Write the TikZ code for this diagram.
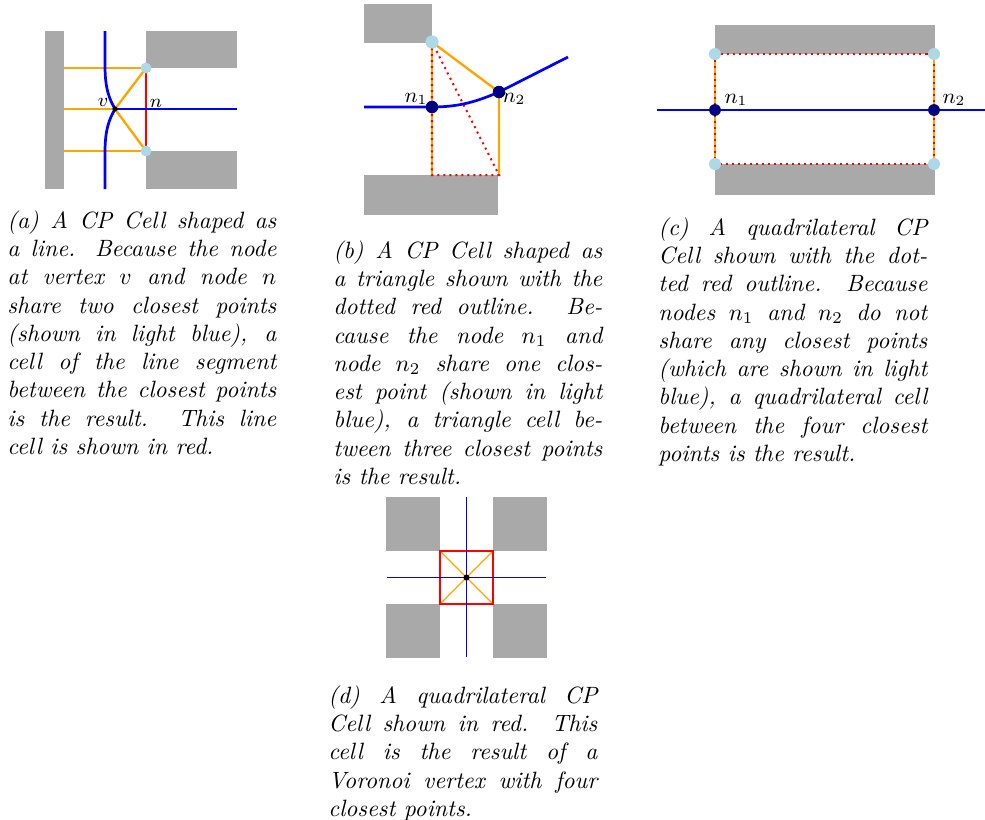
\documentclass[tikz,border=0pt]{standalone}
\usepackage{amsmath, amssymb}
\usepackage{tikz}
\usetikzlibrary{positioning}

\definecolor{obsgray}{HTML}{A9A9A9}
\definecolor{cpblue}{HTML}{ADD8E6}
\definecolor{navynode}{HTML}{000080}
\definecolor{linkorange}{HTML}{FFA500}

\tikzset{
  obstacle/.style={fill=obsgray},
  voronoi/.style={blue, line width=1.15pt},
  link/.style={linkorange, line width=1pt},
  cpcell/.style={red, line width=0.85pt, dash pattern=on 0.85pt off 1.7pt},
  closept/.style={circle, fill=cpblue, inner sep=0pt, minimum size=#1},
  closept/.default=4.6pt,
  graphnode/.style={circle, fill=navynode, inner sep=0pt, minimum size=#1},
  graphnode/.default=5pt,
  subcap/.style={anchor=north west, inner sep=0pt, text width=114pt,
    align=justify, font=\itshape}
}

\begin{document}
\begin{tikzpicture}[x=0.424pt, y=-0.424pt]
  \useasboundingbox (0,0) rectangle (985,819);

  % (a) line cell
  \fill[obstacle] (45,31) rectangle (64,189);
  \fill[obstacle] (146,31) rectangle (237,68);
  \fill[obstacle] (146,151) rectangle (237,189);
  \coordinate (a-wt) at (64,68);
  \coordinate (a-wm) at (64,109);
  \coordinate (a-wb) at (64,151);
  \coordinate (a-top) at (146,68);
  \coordinate (a-bot) at (146,151);
  \coordinate (v) at (115,109);
  \coordinate (a-east) at (237,109);
  \draw[link] (a-wt) -- (a-top);
  \draw[link] (a-wm) -- (v);
  \draw[link] (a-wb) -- (a-bot);
  \draw[link] (a-top) -- (v) -- (a-bot);
  \draw[red, line width=1.25pt] (a-top) -- (a-bot);
  \draw[voronoi] (105,31) -- (105,66) .. controls (105,90) and (110,100) .. (v)
    .. controls (110,118) and (105,128) .. (105,152) -- (105,189);
  \draw[voronoi] (v) -- (a-east);
  \node[closept] (a-cp1) at (a-top) {};
  \node[closept] (a-cp2) at (a-bot) {};
  \fill (v) circle (1.1pt);
  \node[font=\footnotesize] (v-lbl) at (103,102) {$v$};
  \node[font=\footnotesize] (n-lbl) at (156,103) {$n$};

  % (b) triangle cell
  \fill[obstacle] (364,4) rectangle (432,43);
  \fill[obstacle] (364,175) rectangle (498,215);
  \coordinate (b-cp) at (432,42);
  \coordinate (b-bl) at (432,175);
  \coordinate (b-br) at (499,175);
  \coordinate (b-west) at (364,107);
  \coordinate (b-east) at (568,57);
  \coordinate (b-n1) at (432,107);
  \coordinate (b-n2) at (499,92);
  \draw[link] (b-cp) -- (b-n2) -- (b-br);
  \draw[link] (b-cp) -- (b-bl);
  \draw[cpcell] (b-cp) -- (b-bl) -- (b-br) -- cycle;
  \draw[voronoi] (b-west) -- (b-n1) .. controls (460,107) and (478,101) .. (b-n2) -- (b-east);
  \node[closept=5.6pt] (b-cpt) at (b-cp) {};
  \node[graphnode=5.3pt] (b-dot1) at (b-n1) {};
  \node[graphnode=5.3pt] (b-dot2) at (b-n2) {};
  \node[font=\small] (b-lbl1) at (416,99) {$n_1$};
  \node[font=\small] (b-lbl2) at (514,99) {$n_2$};

  % (c) quadrilateral cell
  \fill[obstacle] (715,25) rectangle (935,54);
  \fill[obstacle] (715,164) rectangle (935,195);
  \coordinate (c-tl) at (715,54);
  \coordinate (c-tr) at (934,54);
  \coordinate (c-bl) at (715,164);
  \coordinate (c-br) at (934,164);
  \coordinate (c-n1) at (715,110);
  \coordinate (c-n2) at (934,110);
  \coordinate (c-west) at (657,110);
  \coordinate (c-east) at (985,110);
  \draw[voronoi] (c-west) -- (c-east);
  \draw[link] (c-tl) -- (c-bl);
  \draw[link] (c-tr) -- (c-br);
  \draw[cpcell] (c-tl) -- (c-tr) -- (c-br) -- (c-bl) -- cycle;
  \foreach \p in {tl, tr, bl, br}
    \node[closept=5.1pt] (c-cp-\p) at (c-\p) {};
  \node[graphnode=5pt] (c-dot1) at (c-n1) {};
  \node[graphnode=5pt] (c-dot2) at (c-n2) {};
  \node[font=\small] (c-lbl1) at (736,100) {$n_1$};
  \node[font=\small] (c-lbl2) at (954,100) {$n_2$};

  % (d) Voronoi vertex cell
  \foreach \x/\y in {386/497, 493/497, 386/604, 493/604}
    \fill[obstacle] (\x,\y) rectangle ++(54,54);
  \coordinate (d-c) at (466.5,577.5);
  \coordinate (d1) at (440,551);
  \coordinate (d2) at (493,551);
  \coordinate (d3) at (493,604);
  \coordinate (d4) at (440,604);
  \coordinate (d-n) at (466.5,497);
  \coordinate (d-s) at (466.5,657);
  \coordinate (d-w) at (387,577.5);
  \coordinate (d-e) at (546,577.5);
  \draw[linkorange, line width=0.5pt] (d1) -- (d3) (d2) -- (d4);
  \draw[red, line width=0.45pt] (d1) -- (d2) -- (d3) -- (d4) -- cycle;
  \draw[blue, line width=0.45pt] (d-n) -- (d-s) (d-w) -- (d-e);
  \fill (d-c) circle (1.3pt);

  % Captions
  \node[subcap] (cap-a) at (7,210) {(a) A CP Cell shaped as\linebreak
    a line. Because the node\linebreak
    at vertex $v$ and node $n$\linebreak
    share two closest points\linebreak
    (shown in light blue), a\linebreak
    cell of the line segment\linebreak
    between the closest points\linebreak
    is the result.  This line\linebreak
    cell is shown in red.};
  \node[subcap] (cap-b) at (333,240) {(b) A CP Cell shaped as\linebreak
    a triangle shown with the\linebreak
    dotted red outline.  Be-\linebreak
    cause the node $n_1$ and\linebreak
    node $n_2$ share one clos-\linebreak
    est point (shown in light\linebreak
    blue), a triangle cell be-\linebreak
    tween three closest points\linebreak
    is the result.};
  \node[subcap] (cap-c) at (658,217) {(c) A quadrilateral CP\linebreak
    Cell shown with the dot-\linebreak
    ted red outline.  Because\linebreak
    nodes $n_1$ and $n_2$ do not\linebreak
    share any closest points\linebreak
    (which are shown in light\linebreak
    blue), a quadrilateral cell\linebreak
    between the four closest\linebreak
    points is the result.};
  \node[subcap] (cap-d) at (328,685) {(d) A quadrilateral CP\linebreak
    Cell shown in red.  This\linebreak
    cell is the result of a\linebreak
    Voronoi vertex with four\linebreak
    closest points.};
\end{tikzpicture}
\end{document}
